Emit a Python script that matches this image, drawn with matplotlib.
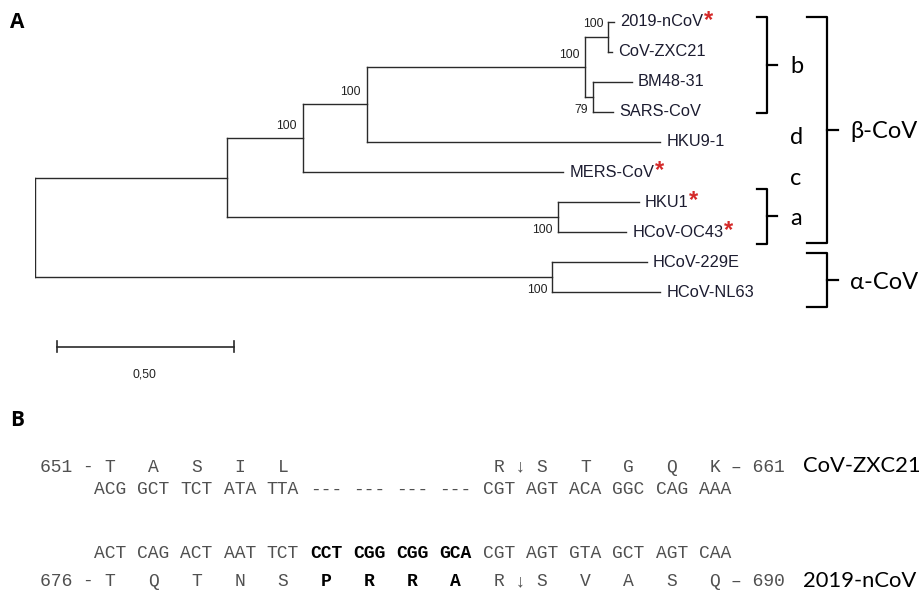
import matplotlib.pyplot as plt

# ---------------- panel A: phylogeny (depth = distance from root) ----------------
leaf_names = ['2019-nCoV', 'CoV-ZXC21', 'BM48-31', 'SARS-CoV', 'HKU9-1',
              'MERS-CoV', 'HKU1', 'HCoV-OC43', 'HCoV-229E', 'HCoV-NL63']
leaf_depth = [1.635, 1.630, 1.686, 1.633, 1.766, 1.492, 1.706, 1.670, 1.729, 1.766]
starred = ['2019-nCoV', 'MERS-CoV', 'HKU1', 'HCoV-OC43']

node_names = ['ncov', 'sars', 'b', 'bd', 'bdc', 'a', 'beta', 'alpha', 'root']
node_depth = [1.619, 1.576, 1.554, 0.938, 0.757, 1.477, 0.542, 1.461, 0.0]
node_children = [['2019-nCoV', 'CoV-ZXC21'], ['BM48-31', 'SARS-CoV'], ['ncov', 'sars'],
                 ['b', 'HKU9-1'], ['bd', 'MERS-CoV'], ['HKU1', 'HCoV-OC43'],
                 ['bdc', 'a'], ['HCoV-229E', 'HCoV-NL63'], ['beta', 'alpha']]
node_support = ['100', '79', '100', '100', '100', '100', '', '100', '']
support_pos = ['top', 'bottom', 'above', 'above', 'above', 'bottom', '', 'bottom', '']

scale_len = 0.50
scale_label = '0,50'

# brackets: label, first leaf, last leaf
group_labels = ['b', 'a', 'β-CoV', 'α-CoV']
group_first = [0, 6, 0, 8]
group_last = [3, 7, 7, 9]
free_labels = ['d', 'c']
free_rows = [4, 5]

# ---------------- panel B: alignment ----------------
zxc_name = 'CoV-ZXC21'
zxc_range = ['651', '661']
zxc_aa = ['T', 'A', 'S', 'I', 'L', '', '', '', '', 'R', 'S', 'T', 'G', 'Q', 'K']
zxc_codons = ['ACG', 'GCT', 'TCT', 'ATA', 'TTA', '---', '---', '---', '---',
              'CGT', 'AGT', 'ACA', 'GGC', 'CAG', 'AAA']
ncov_name = '2019-nCoV'
ncov_range = ['676', '690']
ncov_codons = ['ACT', 'CAG', 'ACT', 'AAT', 'TCT', 'CCT', 'CGG', 'CGG', 'GCA',
               'CGT', 'AGT', 'GTA', 'GCT', 'AGT', 'CAA']
ncov_aa = ['T', 'Q', 'T', 'N', 'S', 'P', 'R', 'R', 'A', 'R', 'S', 'V', 'A', 'S', 'Q']
insert_codons = [5, 6, 7, 8]
cleavage_after = 9

W, H = 920, 594
fig = plt.figure(figsize=(W / 100, H / 100), dpi=100)

# overlay axes in pixel units for panel letters and the alignment
ax0 = fig.add_axes([0, 0, 1, 1])
ax0.set_xlim(0, W)
ax0.set_ylim(H, 0)
ax0.axis('off')

# tree axes: x in branch-length units, y in leaf rows
px_per_unit = 354.0
px_per_row = 30.1
x_left_px, row0_px = 35, 21.5
y_top, y_bot = -0.7, 12.3
ax = fig.add_axes([x_left_px / W,
                   1 - (row0_px + y_bot * px_per_row) / H,
                   (W - x_left_px) / W,
                   (y_bot - y_top) * px_per_row / H])
ax.set_xlim(0, (W - x_left_px) / px_per_unit)
ax.set_ylim(y_bot, y_top)
ax.axis('off')

line_col = '#2a2a2a'
label_col = '#1c1c30'
depth = dict(zip(leaf_names, leaf_depth))
depth.update(zip(node_names, node_depth))
ypos = {n: i for i, n in enumerate(leaf_names)}
children = dict(zip(node_names, node_children))


def node_y(n):
    if n not in ypos:
        ys = [node_y(c) for c in children[n]]
        ypos[n] = (ys[0] + ys[-1]) / 2
    return ypos[n]


node_y('root')
for n in node_names:
    kids = children[n]
    ax.plot([depth[n], depth[n]], [ypos[kids[0]], ypos[kids[-1]]], color=line_col, lw=1.0)
    for c in kids:
        ax.plot([depth[n], depth[c]], [ypos[c], ypos[c]], color=line_col, lw=1.0)

for n, sup, pos in zip(node_names, node_support, support_pos):
    if not sup:
        continue
    kids = children[n]
    if pos == 'above':
        xy, off = (depth[n], ypos[n]), (-6, 12)
    elif pos == 'top':
        xy, off = (depth[n], ypos[kids[0]]), (-5, -2)
    else:
        xy, off = (depth[n], ypos[kids[-1]]), (-5, 2)
    ax.annotate(sup, xy=xy, xytext=off, textcoords='offset pixels', ha='right', va='center',
                fontsize=8.7, family='Liberation Sans', color='#222222')

for name in leaf_names:
    t = ax.annotate(name, xy=(depth[name], ypos[name]), xytext=(6, 0), textcoords='offset pixels',
                    ha='left', va='center', fontsize=11.8, family='Liberation Sans', color=label_col)
    if name in starred:
        ax.annotate('*', xy=(1, 0.5), xycoords=t, xytext=(0.5, 1), textcoords='offset points',
                    ha='left', va='center', fontsize=17, fontweight='bold',
                    family='Liberation Sans', color='#d42a2a')

# scale bar
sb_y, sb_x0 = 10.8, 0.063
ax.plot([sb_x0, sb_x0 + scale_len], [sb_y, sb_y], color=line_col, lw=1.2)
for xe in (sb_x0, sb_x0 + scale_len):
    ax.plot([xe, xe], [sb_y - 0.17, sb_y + 0.17], color=line_col, lw=1.2)
ax.text(sb_x0 + scale_len / 2 - 0.003, 11.74, scale_label, ha='center', va='center',
        fontsize=8.7, family='Liberation Sans', color='#222222')

# clade brackets
br_x = [2.040, 2.040, 2.181, 2.181]
br_w = [0.028, 0.028, 0.056, 0.056]
br_tick = [0.028, 0.028, 0.031, 0.031]
pad_top = [0.15, 0.44, 0.15, 0.31]
pad_bot = [0.04, 0.39, 0.36, 0.50]
gfont = dict(family='Lato', color='black')
for lab, f, l, x, w, tk, pt, pb in zip(group_labels, group_first, group_last, br_x, br_w,
                                       br_tick, pad_top, pad_bot):
    top, bot = f - pt, l + pb
    mid = (top + bot) / 2
    xv = x + w
    ax.plot([x, xv, xv, x], [top, top, bot, bot], color='black', lw=1.6, solid_joinstyle='round')
    ax.plot([xv, xv + tk], [mid, mid], color='black', lw=1.6)
    big = len(lab) > 1
    ax.text(xv + tk + (0.034 if big else 0.037), mid + 0.06, lab, ha='left', va='center',
            fontsize=17, clip_on=False, **gfont)
for lab, r, dy in zip(free_labels, free_rows, [-0.13, 0.22]):
    ax.text(2.133, r + dy, lab, ha='left', va='center', fontsize=17, **gfont)

# panel letters
ax0.text(10, 23, 'A', ha='left', va='center', fontsize=15, fontweight='bold', family='Open Sans')
ax0.text(10, 420, 'B', ha='left', va='center', fontsize=15, fontweight='bold', family='Open Sans')

# alignment, monospace: character index -> pixel column
cw, x0 = 10.8, 40
mono = dict(family='Liberation Mono', fontsize=13, va='center', ha='left')
grey = '#505050'


def put(idx, y, s, bold=False):
    ax0.text(x0 + idx * cw, y, s, color='black' if bold else grey,
             fontweight='bold' if bold else 'normal', **mono)


def aa_row(y, rng, aas):
    put(0, y, rng[0] + ' -')
    for k, a in enumerate(aas):
        if a:
            put(6 + 4 * k, y, a, bold=k in insert_codons and aas is ncov_aa)
    put(6 + 4 * cleavage_after + 2, y, '↓')
    put(6 + 4 * (len(aas) - 1) + 2, y, '– ' + rng[1])


def codon_row(y, codons, bold_set):
    for k, c in enumerate(codons):
        put(5 + 4 * k, y, c, bold=k in bold_set)


aa_row(467, zxc_range, zxc_aa)
codon_row(490, zxc_codons, [])
codon_row(553, ncov_codons, insert_codons)
aa_row(582, ncov_range, ncov_aa)

ax0.text(803, 466, zxc_name, ha='left', va='center', fontsize=15.8, **gfont)
ax0.text(803, 581, ncov_name, ha='left', va='center', fontsize=15.8, **gfont)

fig.savefig('out.png', dpi=100)
